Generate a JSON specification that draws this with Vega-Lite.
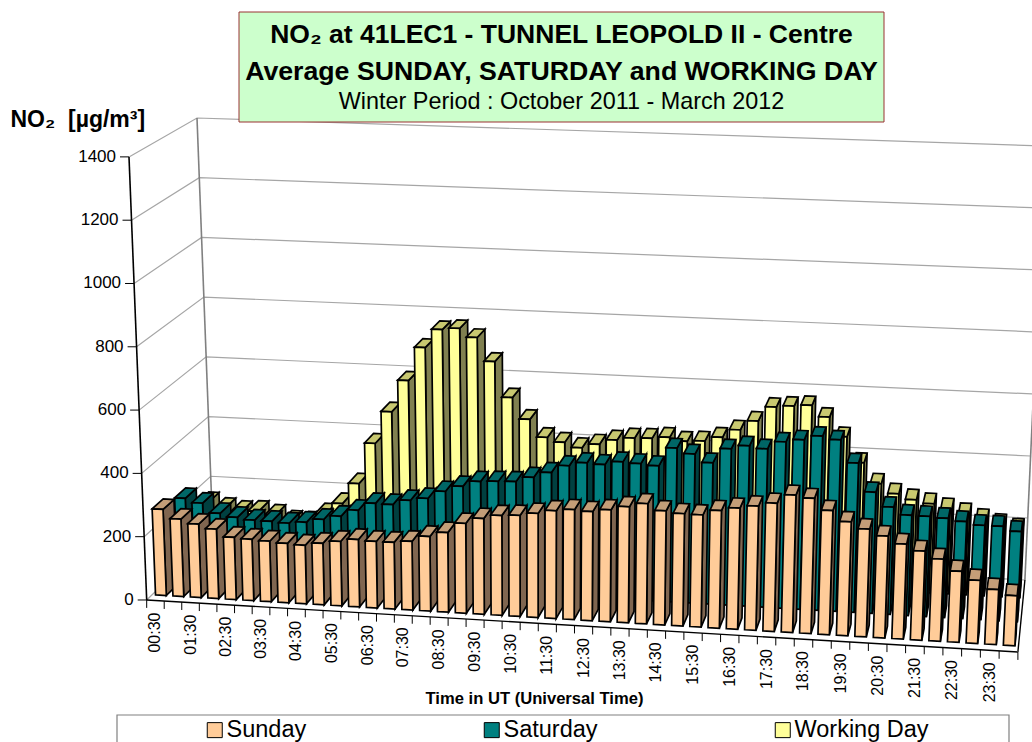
{"$schema":"https://vega.github.io/schema/vega-lite/v6.json","width":1032,"height":742,"autosize":"none","padding":0,"background":"white","config":{"view":{"stroke":null},"font":"Liberation Sans"},
"data":{"values":[
{"series":"Working Day","time":"00:30","value":165},{"series":"Working Day","time":"01:00","value":149},{"series":"Working Day","time":"01:30","value":142},{"series":"Working Day","time":"02:00","value":145},{"series":"Working Day","time":"02:30","value":135},{"series":"Working Day","time":"03:00","value":118},{"series":"Working Day","time":"03:30","value":118},{"series":"Working Day","time":"04:00","value":148},{"series":"Working Day","time":"04:30","value":185},{"series":"Working Day","time":"05:00","value":253},{"series":"Working Day","time":"05:30","value":387},{"series":"Working Day","time":"06:00","value":493},{"series":"Working Day","time":"06:30","value":597},{"series":"Working Day","time":"07:00","value":707},{"series":"Working Day","time":"07:30","value":768},{"series":"Working Day","time":"08:00","value":774},{"series":"Working Day","time":"08:30","value":747},{"series":"Working Day","time":"09:00","value":671},{"series":"Working Day","time":"09:30","value":557},{"series":"Working Day","time":"10:00","value":489},{"series":"Working Day","time":"10:30","value":433},{"series":"Working Day","time":"11:00","value":420},{"series":"Working Day","time":"11:30","value":405},{"series":"Working Day","time":"12:00","value":419},{"series":"Working Day","time":"12:30","value":435},{"series":"Working Day","time":"13:00","value":444},{"series":"Working Day","time":"13:30","value":446},{"series":"Working Day","time":"14:00","value":452},{"series":"Working Day","time":"14:30","value":442},{"series":"Working Day","time":"15:00","value":445},{"series":"Working Day","time":"15:30","value":460},{"series":"Working Day","time":"16:00","value":486},{"series":"Working Day","time":"16:30","value":517},{"series":"Working Day","time":"17:00","value":564},{"series":"Working Day","time":"17:30","value":570},{"series":"Working Day","time":"18:00","value":575},{"series":"Working Day","time":"18:30","value":540},{"series":"Working Day","time":"19:00","value":480},{"series":"Working Day","time":"19:30","value":400},{"series":"Working Day","time":"20:00","value":336},{"series":"Working Day","time":"20:30","value":307},{"series":"Working Day","time":"21:00","value":291},{"series":"Working Day","time":"21:30","value":281},{"series":"Working Day","time":"22:00","value":268},{"series":"Working Day","time":"22:30","value":255},{"series":"Working Day","time":"23:00","value":239},{"series":"Working Day","time":"23:30","value":226},{"series":"Working Day","time":"24:00","value":214},
{"series":"Saturday","time":"00:30","value":245},{"series":"Saturday","time":"01:00","value":232},{"series":"Saturday","time":"01:30","value":202},{"series":"Saturday","time":"02:00","value":192},{"series":"Saturday","time":"02:30","value":186},{"series":"Saturday","time":"03:00","value":185},{"series":"Saturday","time":"03:30","value":182},{"series":"Saturday","time":"04:00","value":188},{"series":"Saturday","time":"04:30","value":200},{"series":"Saturday","time":"05:00","value":213},{"series":"Saturday","time":"05:30","value":235},{"series":"Saturday","time":"06:00","value":260},{"series":"Saturday","time":"06:30","value":259},{"series":"Saturday","time":"07:00","value":275},{"series":"Saturday","time":"07:30","value":284},{"series":"Saturday","time":"08:00","value":309},{"series":"Saturday","time":"08:30","value":328},{"series":"Saturday","time":"09:00","value":346},{"series":"Saturday","time":"09:30","value":349},{"series":"Saturday","time":"10:00","value":351},{"series":"Saturday","time":"10:30","value":367},{"series":"Saturday","time":"11:00","value":385},{"series":"Saturday","time":"11:30","value":409},{"series":"Saturday","time":"12:00","value":421},{"series":"Saturday","time":"12:30","value":418},{"series":"Saturday","time":"13:00","value":429},{"series":"Saturday","time":"13:30","value":426},{"series":"Saturday","time":"14:00","value":422},{"series":"Saturday","time":"14:30","value":480},{"series":"Saturday","time":"15:00","value":464},{"series":"Saturday","time":"15:30","value":439},{"series":"Saturday","time":"16:00","value":485},{"series":"Saturday","time":"16:30","value":497},{"series":"Saturday","time":"17:00","value":490},{"series":"Saturday","time":"17:30","value":514},{"series":"Saturday","time":"18:00","value":523},{"series":"Saturday","time":"18:30","value":537},{"series":"Saturday","time":"19:00","value":528},{"series":"Saturday","time":"19:30","value":459},{"series":"Saturday","time":"20:00","value":372},{"series":"Saturday","time":"20:30","value":329},{"series":"Saturday","time":"21:00","value":307},{"series":"Saturday","time":"21:30","value":306},{"series":"Saturday","time":"22:00","value":303},{"series":"Saturday","time":"22:30","value":296},{"series":"Saturday","time":"23:00","value":287},{"series":"Saturday","time":"23:30","value":287},{"series":"Saturday","time":"24:00","value":274},
{"series":"Sunday","time":"00:30","value":273},{"series":"Sunday","time":"01:00","value":245},{"series":"Sunday","time":"01:30","value":232},{"series":"Sunday","time":"02:00","value":219},{"series":"Sunday","time":"02:30","value":196},{"series":"Sunday","time":"03:00","value":193},{"series":"Sunday","time":"03:30","value":190},{"series":"Sunday","time":"04:00","value":186},{"series":"Sunday","time":"04:30","value":183},{"series":"Sunday","time":"05:00","value":192},{"series":"Sunday","time":"05:30","value":201},{"series":"Sunday","time":"06:00","value":210},{"series":"Sunday","time":"06:30","value":207},{"series":"Sunday","time":"07:00","value":207},{"series":"Sunday","time":"07:30","value":213},{"series":"Sunday","time":"08:00","value":231},{"series":"Sunday","time":"08:30","value":246},{"series":"Sunday","time":"09:00","value":277},{"series":"Sunday","time":"09:30","value":295},{"series":"Sunday","time":"10:00","value":307},{"series":"Sunday","time":"10:30","value":310},{"series":"Sunday","time":"11:00","value":319},{"series":"Sunday","time":"11:30","value":330},{"series":"Sunday","time":"12:00","value":336},{"series":"Sunday","time":"12:30","value":333},{"series":"Sunday","time":"13:00","value":341},{"series":"Sunday","time":"13:30","value":353},{"series":"Sunday","time":"14:00","value":365},{"series":"Sunday","time":"14:30","value":346},{"series":"Sunday","time":"15:00","value":340},{"series":"Sunday","time":"15:30","value":339},{"series":"Sunday","time":"16:00","value":355},{"series":"Sunday","time":"16:30","value":365},{"series":"Sunday","time":"17:00","value":374},{"series":"Sunday","time":"17:30","value":385},{"series":"Sunday","time":"18:00","value":412},{"series":"Sunday","time":"18:30","value":405},{"series":"Sunday","time":"19:00","value":371},{"series":"Sunday","time":"19:30","value":340},{"series":"Sunday","time":"20:00","value":321},{"series":"Sunday","time":"20:30","value":303},{"series":"Sunday","time":"21:00","value":282},{"series":"Sunday","time":"21:30","value":264},{"series":"Sunday","time":"22:00","value":243},{"series":"Sunday","time":"22:30","value":210},{"series":"Sunday","time":"23:00","value":186},{"series":"Sunday","time":"23:30","value":162},{"series":"Sunday","time":"24:00","value":147}
]},
"encoding":{"x":{"field":"sx","type":"quantitative","scale":{"domain":[0,1032],"nice":false,"zero":false},"axis":{"title":"Time in UT (Universal Time)","titleFont":"Liberation Sans","titleFontSize":16.6,"titleFontWeight":"bold","titleColor":"#000000","titleX":534,"titleY":-52,"labels":false,"ticks":false,"domain":false,"grid":false}},
"y":{"field":"vy","type":"quantitative","scale":{"domain":[-448.7,1895.7],"nice":false,"zero":false},"axis":{"title":"NO₂\u00a0\u00a0[µg/m³]","titleAngle":0,"titleFont":"Liberation Sans","titleFontSize":23,"titleFontWeight":"bold","titleColor":"#000000","titleX":10,"titleY":126,"titleAlign":"left","titleBaseline":"alphabetic","labels":false,"ticks":false,"domain":false,"grid":false}}},
"layer":[
{"data":{"values":[{"value":0},{"value":200},{"value":400},{"value":600},{"value":800},{"value":1000},{"value":1200},{"value":1400}]},
"transform":[{"calculate":"[0,1,2]","as":"v"},{"flatten":["v"]},{"calculate":"datum.v==2?48:0","as":"u"},{"calculate":"datum.v==0?0:1","as":"d"},{"calculate":"datum.value/1400","as":"h"},
{"calculate":"(17.5*datum.u+0.01354*datum.u*datum.u)/871.3","as":"q"},
{"calculate":"(1-datum.h)*((1-datum.d)*(146.7+871.3*datum.q)+datum.d*(213+812*datum.q))+datum.h*((1-datum.d)*(129+911*datum.q)+datum.d*(197+848*datum.q))","as":"sx"},
{"calculate":"(1-datum.h)*((1-datum.d)*(600+52*datum.q)+datum.d*(536+44*datum.q))+datum.h*((1-datum.d)*(157+15*datum.q)+datum.d*(118+28*datum.q))","as":"sy"},
{"calculate":"(600-datum.sy)/0.3165","as":"vy"}],
"mark":{"type":"line","color":"#A6A6A6","strokeWidth":1.2,"clip":true},"encoding":{"detail":{"field":"value"},"order":{"field":"v"}}},
{"data":{"values":[{"edge":"frontLeft","u":0,"d":0},{"edge":"backLeft","u":0,"d":1},{"edge":"backRight","u":48,"d":1}]},
"transform":[{"calculate":"[0,1]","as":"h"},{"flatten":["h"]},
{"calculate":"(17.5*datum.u+0.01354*datum.u*datum.u)/871.3","as":"q"},
{"calculate":"(1-datum.h)*((1-datum.d)*(146.7+871.3*datum.q)+datum.d*(213+812*datum.q))+datum.h*((1-datum.d)*(129+911*datum.q)+datum.d*(197+848*datum.q))","as":"sx"},
{"calculate":"(1-datum.h)*((1-datum.d)*(600+52*datum.q)+datum.d*(536+44*datum.q))+datum.h*((1-datum.d)*(157+15*datum.q)+datum.d*(118+28*datum.q))","as":"sy"},
{"calculate":"(600-datum.sy)/0.3165","as":"vy"}],
"mark":{"type":"line","strokeWidth":1.6},"encoding":{"detail":{"field":"edge"},"order":{"field":"h"},"color":{"field":"edge","type":"nominal","scale":{"domain":["frontLeft","backLeft","backRight"],"range":["#000000","#808080","#808080"]},"legend":null}}},
{"data":{"values":[{"edge":"front","u":0,"d":0,"h":0},{"edge":"front","u":48,"d":0,"h":0},{"edge":"right","u":48,"d":0,"h":0},{"edge":"right","u":48,"d":1,"h":0}]},
"transform":[
{"calculate":"(17.5*datum.u+0.01354*datum.u*datum.u)/871.3","as":"q"},
{"calculate":"(1-datum.d)*(146.7+871.3*datum.q)+datum.d*(213+812*datum.q)","as":"sx"},
{"calculate":"(1-datum.d)*(600+52*datum.q)+datum.d*(536+44*datum.q)","as":"sy"},
{"calculate":"(600-datum.sy)/0.3165","as":"vy"}],
"mark":{"type":"line","color":"#000000","strokeWidth":1.4},"encoding":{"detail":{"field":"edge"}}},
{"data":{"values":[{"tick":0},{"tick":200},{"tick":400},{"tick":600},{"tick":800},{"tick":1000},{"tick":1200},{"tick":1400}]},
"transform":[{"calculate":"146.7-17.7*datum.tick/1400","as":"sx"},{"calculate":"datum.sx-9","as":"sx2"},{"calculate":"datum.tick","as":"vy"}],
"mark":{"type":"rule","color":"#000000","strokeWidth":1},"encoding":{"x2":{"field":"sx2"}}},
{"data":{"values":[{"tick":0},{"tick":200},{"tick":400},{"tick":600},{"tick":800},{"tick":1000},{"tick":1200},{"tick":1400}]},
"transform":[{"calculate":"146.7-17.7*datum.tick/1400","as":"sx"},{"calculate":"datum.tick","as":"vy"}],
"mark":{"type":"text","align":"right","baseline":"middle","fontSize":17,"font":"Liberation Sans","color":"#000000","xOffset":-13},"encoding":{"text":{"field":"tick","type":"quantitative","format":"d"}}},
{"transform":[{"filter":"datum.series=='Sunday'"},
{"calculate":"(toNumber(substring(datum.time,0,2))*60+toNumber(substring(datum.time,3,5))-30)/30","as":"slot"},
{"calculate":"datum.slot==47?[47,48]:[datum.slot]","as":"u"},{"flatten":["u"]},
{"calculate":"(17.5*datum.u+0.01354*datum.u*datum.u)/871.3","as":"q"},
{"calculate":"146.7+871.3*datum.q","as":"sx"},
{"calculate":"600+52*datum.q","as":"sy"},
{"calculate":"(600-datum.sy)/0.3165","as":"vy"},{"calculate":"datum.vy-25","as":"vy2"}],
"mark":{"type":"rule","color":"#000000","strokeWidth":1},"encoding":{"y2":{"field":"vy2"}}},
{"transform":[{"filter":"datum.series=='Sunday'"},
{"calculate":"(toNumber(substring(datum.time,0,2))*60+toNumber(substring(datum.time,3,5))-30)/30","as":"slot"},
{"filter":"datum.slot%2==0"},
{"calculate":"datum.slot+0.5","as":"u"},
{"calculate":"(17.5*datum.u+0.01354*datum.u*datum.u)/871.3","as":"q"},
{"calculate":"146.7+871.3*datum.q","as":"sx"},
{"calculate":"600+52*datum.q","as":"sy"},
{"calculate":"(600-datum.sy)/0.3165","as":"vy"}],
"mark":{"type":"text","angle":270,"align":"right","baseline":"middle","fontSize":16,"font":"Liberation Sans","color":"#000000","yOffset":12},"encoding":{"text":{"field":"time"}}},
{"transform":[
{"calculate":"(toNumber(substring(datum.time,0,2))*60+toNumber(substring(datum.time,3,5))-30)/30","as":"slot"},
{"calculate":"datum.series=='Sunday'?0:datum.series=='Saturday'?1:2","as":"k"},
{"calculate":"['side','top','front']","as":"face"},{"flatten":["face"]},
{"calculate":"[0,1,2,3]","as":"v"},{"flatten":["v"]},
{"calculate":"datum.face=='front'?datum.series:datum.series+' '+datum.face","as":"part"},
{"calculate":"datum.series+datum.time+datum.face","as":"bar"},
{"calculate":"datum.slot+((datum.face=='side'||datum.v==1||datum.v==2)?0.81:0.19)","as":"u"},
{"calculate":"(datum.k+(((datum.face=='side'&&(datum.v==1||datum.v==2))||(datum.face=='top'&&datum.v>=2))?0.75:0.25))/3","as":"d"},
{"calculate":"(datum.face=='top'||datum.v>=2)?datum.value/1400:0","as":"h"},
{"calculate":"(17.5*datum.u+0.01354*datum.u*datum.u)/871.3","as":"q"},
{"calculate":"(1-datum.h)*((1-datum.d)*(146.7+871.3*datum.q)+datum.d*(213+812*datum.q))+datum.h*((1-datum.d)*(129+911*datum.q)+datum.d*(197+848*datum.q))","as":"sx"},
{"calculate":"(1-datum.h)*((1-datum.d)*(600+52*datum.q)+datum.d*(536+44*datum.q))+datum.h*((1-datum.d)*(157+15*datum.q)+datum.d*(118+28*datum.q))","as":"sy"},
{"calculate":"(600-datum.sy)/0.3165","as":"vy"}],
"mark":{"type":"line","interpolate":"linear-closed","stroke":"#000000","strokeWidth":1.7,"strokeJoin":"miter"},
"encoding":{"detail":{"field":"bar"},"order":{"field":"v"},"fill":{"field":"part","type":"nominal","scale":{"domain":["Sunday","Saturday","Working Day","Sunday side","Sunday top","Saturday side","Saturday top","Working Day side","Working Day top"],"range":["#FFCC99","#008080","#FFFF99","#806650","#C49E78","#004040","#006666","#808050","#C8C870"]},
"legend":{"values":["Sunday","Saturday","Working Day"],"title":null,"orient":"none","legendX":203,"legendY":718,"direction":"horizontal","columns":3,"columnPadding":173,"symbolType":"square","symbolSize":225,"symbolStrokeColor":"#000000","symbolStrokeWidth":1,"labelFont":"Liberation Sans","labelFontSize":23.5,"labelColor":"#000000","labelOffset":0,"padding":0}}}},
{"data":{"values":[{"box":"title"}]},"mark":{"type":"rect","fill":"#CCFFCC","stroke":"#993333","strokeWidth":1},"encoding":{"x":{"value":239},"x2":{"value":884},"y":{"value":12},"y2":{"value":122}}},
{"data":{"values":[{"t":"NO₂ at 41LEC1 - TUNNEL LEOPOLD II - Centre"}]},"mark":{"type":"text","align":"center","baseline":"alphabetic","fontSize":26.5,"fontWeight":"bold","font":"Liberation Sans","color":"#000000"},"encoding":{"x":{"value":561.5},"y":{"value":43},"text":{"field":"t"}}},
{"data":{"values":[{"t":"Average SUNDAY, SATURDAY and WORKING DAY"}]},"mark":{"type":"text","align":"center","baseline":"alphabetic","fontSize":26.7,"fontWeight":"bold","font":"Liberation Sans","color":"#000000"},"encoding":{"x":{"value":561.5},"y":{"value":80},"text":{"field":"t"}}},
{"data":{"values":[{"t":"Winter Period : October 2011 - March 2012"}]},"mark":{"type":"text","align":"center","baseline":"alphabetic","fontSize":23.4,"font":"Liberation Sans","color":"#000000"},"encoding":{"x":{"value":561.5},"y":{"value":109},"text":{"field":"t"}}},
{"data":{"values":[{"box":"legend"}]},"mark":{"type":"rect","fill":"#FFFFFF","stroke":"#808080","strokeWidth":1.2},"encoding":{"x":{"value":117},"x2":{"value":1009},"y":{"value":715},"y2":{"value":760}}}
]}
